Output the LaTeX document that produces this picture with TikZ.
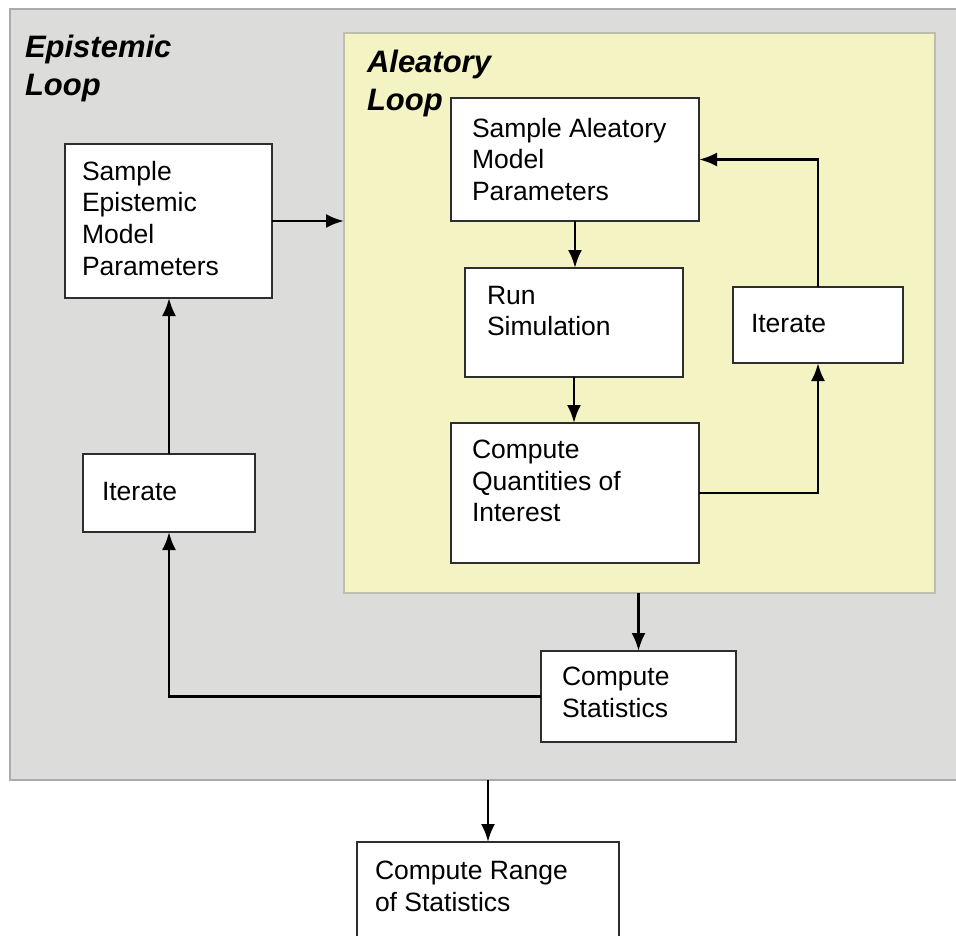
\documentclass[tikz,border=0pt]{standalone}
\usepackage{fontspec}
\setmainfont{Liberation Sans}
\usetikzlibrary{arrows.meta}
\definecolor{grayfill}{HTML}{DCDCDA}
\definecolor{grayline}{HTML}{ABABAB}
\definecolor{yelfill}{HTML}{F4F3C3}
\definecolor{yelline}{HTML}{BEBEAE}
\definecolor{boxline}{HTML}{2E2E2E}
\tikzset{
  box/.style={draw=boxline, line width=2.4pt, fill=white, inner sep=0pt, outer sep=0pt, anchor=north west},
  txt/.style={inner sep=0pt, outer sep=0pt, anchor=north west, align=left, font=\fontsize{26.5pt}{31.7pt}\selectfont},
  ttl/.style={inner sep=0pt, outer sep=0pt, anchor=north west, align=left, font=\fontsize{31pt}{38.5pt}\selectfont\bfseries\itshape},
  arr/.style={line width=2.8pt, -{Latex[length=18pt,width=14pt]}},
}
\begin{document}
\begin{tikzpicture}[x=1pt,y=-1pt]
\useasboundingbox (0,0) rectangle (956,935);
\clip (0,0) rectangle (956,935);
% containers
\node[draw=grayline, line width=1.5pt, fill=grayfill, inner sep=0pt, outer sep=0pt, anchor=north west,
      minimum width=960pt, minimum height=771pt] (gr) at (10,9) {};
\node[draw=yelline, line width=1.5pt, fill=yelfill, inner sep=0pt, outer sep=0pt, anchor=north west,
      minimum width=591pt, minimum height=560pt] (yl) at (344,33) {};
% titles
\node[ttl] (t1) at (25,35) {Epistemic\\Loop};
\node[ttl] (t2) at (367,50) {Aleatory\\Loop};
% boxes
\node[box, minimum width=207pt, minimum height=154pt] (se) at (65,144) {};
\node[box, minimum width=172pt, minimum height=78pt] (li) at (83,454) {};
\node[box, minimum width=248pt, minimum height=123pt] (sa) at (451,98) {};
\node[box, minimum width=218pt, minimum height=109pt] (rs) at (465,268) {};
\node[box, minimum width=248pt, minimum height=140pt] (cq) at (451,423) {};
\node[box, minimum width=170pt, minimum height=76pt] (it) at (733,287) {};
\node[box, minimum width=195pt, minimum height=91pt] (cs) at (541,651) {};
\node[box, minimum width=262pt, minimum height=140pt] (cr) at (357,842) {};
% texts
\node[txt] (se-t) at (82,161) {Sample\\Epistemic\\Model\\Parameters};
\node[txt] (li-t) at (102,482) {Iterate};
\node[txt] (sa-t) at (472,118) {Sample Aleatory\\Model\\Parameters};
\node[txt] (rs-t) at (487,286) {Run\\Simulation};
\node[txt] (cq-t) at (472,440) {Compute\\Quantities of\\Interest};
\node[txt] (it-t) at (751,314) {Iterate};
\node[txt] (cs-t) at (562,667) {Compute\\Statistics};
\node[txt] (cr-t) at (375,861) {Compute Range\\of Statistics};
% connectors
\draw[arr] (se.east) -- (se.east -| yl.west);
\draw[arr] (sa.south) -- (sa.south |- rs.north);
\draw[arr] (rs.south) -- (rs.south |- cq.north);
\draw[arr] (cq.east) -| (it.south);
\draw[arr] (it.north) |- (sa.east);
\draw[arr] (yl.south -| cs.north) -- (cs.north);
\draw[arr] (cs.west) -| (li.south);
\draw[arr] (li.north) -- (li.north |- se.south);
\draw[arr] (gr.south -| cr.north) -- (cr.north);
\end{tikzpicture}
\end{document}
